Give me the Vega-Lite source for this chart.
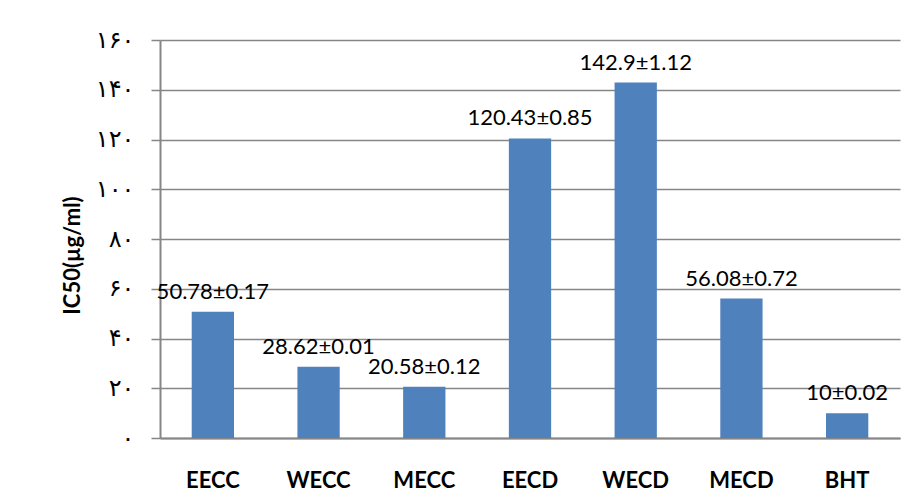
{
  "$schema": "https://vega.github.io/schema/vega-lite/v6.json",
  "autosize": "none",
  "width": 740,
  "height": 398,
  "padding": {"left": 160, "top": 40, "right": 20, "bottom": 63},
  "background": "white",
  "config": {"view": {"stroke": null}},
  "data": {
    "values": [
      {"sample": "EECC", "ic50": 50.78, "label": "50.78±0.17"},
      {"sample": "WECC", "ic50": 28.62, "label": "28.62±0.01"},
      {"sample": "MECC", "ic50": 20.58, "label": "20.58±0.12"},
      {"sample": "EECD", "ic50": 120.43, "label": "120.43±0.85"},
      {"sample": "WECD", "ic50": 142.9, "label": "142.9±1.12"},
      {"sample": "MECD", "ic50": 56.08, "label": "56.08±0.72"},
      {"sample": "BHT", "ic50": 10, "label": "10±0.02"}
    ]
  },
  "encoding": {
    "x": {
      "field": "sample",
      "type": "nominal",
      "sort": null,
      "scale": {"paddingInner": 0.6, "paddingOuter": 0.3},
      "axis": {
        "title": null,
        "labelAngle": 0,
        "ticks": false,
        "domainColor": "#868686",
        "domainWidth": 2,
        "labelFont": "Lato",
        "labelFontWeight": "bold",
        "labelFontSize": 22,
        "labelColor": "black",
        "labelBaseline": "middle",
        "labelPadding": 42
      }
    },
    "y": {
      "field": "ic50",
      "type": "quantitative",
      "scale": {"domain": [0, 160], "nice": false},
      "axis": {
        "values": [0, 20, 40, 60, 80, 100, 120, 140, 160],
        "labelExpr": "datum.value == 0 ? '۰' : datum.value == 20 ? '۲۰' : datum.value == 40 ? '۴۰' : datum.value == 60 ? '۶۰' : datum.value == 80 ? '۸۰' : datum.value == 100 ? '۱۰۰' : datum.value == 120 ? '۱۲۰' : datum.value == 140 ? '۱۴۰' : '۱۶۰'",
        "title": "IC50(µg/ml)",
        "titleFont": "Lato",
        "titleFontWeight": "bold",
        "titleFontSize": 22,
        "titleColor": "black",
        "titleAngle": -90,
        "titleX": -88,
        "titleY": 215,
        "titleAlign": "center",
        "titleBaseline": "middle",
        "grid": true,
        "gridColor": "#868686",
        "gridWidth": 1.5,
        "domainColor": "#868686",
        "domainWidth": 2,
        "tickColor": "#868686",
        "tickWidth": 1.5,
        "tickSize": 9,
        "labelFont": "DejaVu Sans",
        "labelFontSize": 24,
        "labelColor": "black",
        "labelPadding": 17,
        "labelBaseline": "middle"
      }
    }
  },
  "layer": [
    {"mark": {"type": "bar", "color": "#4F81BD"}},
    {
      "mark": {"type": "text", "baseline": "alphabetic", "dy": -13, "font": "Lato", "fontSize": 22, "color": "black"},
      "encoding": {"text": {"field": "label"}}
    }
  ]
}
